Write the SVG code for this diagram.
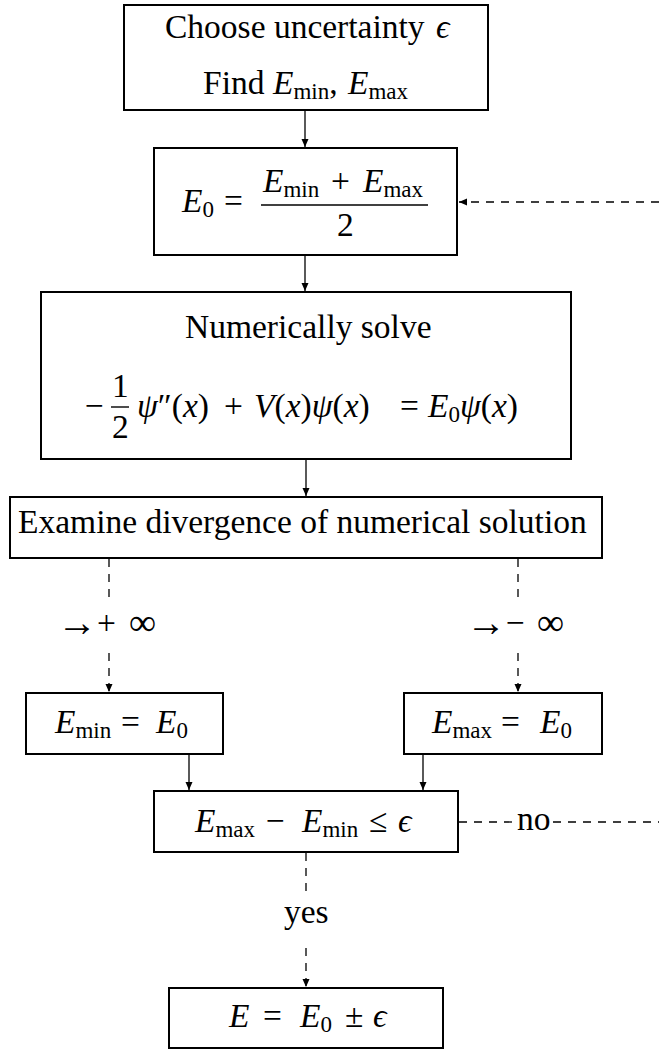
<svg xmlns="http://www.w3.org/2000/svg" width="659" height="1050" viewBox="0 0 659 1050">
<style>
  .box { fill: #fff; stroke: #000; stroke-width: 2; }
  .c { fill: none; stroke: #000; stroke-width: 1.3; }
  .d { fill: none; stroke: #000; stroke-width: 1.3; stroke-dasharray: 8 7; }
  .bar { stroke: #000; stroke-width: 1.4; }
</style>
<defs>
  <marker id="ah" markerUnits="userSpaceOnUse" viewBox="0 -4 8 8" refX="8" refY="0" markerWidth="8" markerHeight="8" orient="auto">
    <path d="M0,-3.5 L8,0 L0,3.5 z" fill="#000"/>
  </marker>
</defs>

<g id="connectors">
  <line class="c" x1="305" y1="111" x2="305" y2="147" marker-end="url(#ah)"/>
  <line class="c" x1="305" y1="256" x2="305" y2="291" marker-end="url(#ah)"/>
  <line class="c" x1="306" y1="460" x2="306" y2="496" marker-end="url(#ah)"/>
  <line class="c" x1="189" y1="755" x2="189" y2="790" marker-end="url(#ah)"/>
  <line class="c" x1="423" y1="755" x2="423" y2="790" marker-end="url(#ah)"/>
  <line class="d" x1="109" y1="559" x2="109" y2="600"/>
  <line class="d" x1="109" y1="653" x2="109" y2="692" marker-end="url(#ah)"/>
  <line class="d" x1="518" y1="559" x2="518" y2="600"/>
  <line class="d" x1="518" y1="653" x2="518" y2="692" marker-end="url(#ah)"/>
  <line class="d" x1="459" y1="822" x2="513" y2="822"/>
  <line class="d" x1="553" y1="822" x2="659" y2="822"/>
  <line class="d" x1="306" y1="853" x2="306" y2="893"/>
  <line class="d" x1="306" y1="948" x2="306" y2="987" marker-end="url(#ah)"/>
  <line class="d" x1="659" y1="202" x2="459" y2="202" marker-end="url(#ah)"/>
  <text font-family="Liberation Serif" font-size="33.5" y="634"><tspan x="57" font-size="40" y="636">→</tspan><tspan x="97" y="634">+</tspan><tspan x="129" font-size="38" y="635">∞</tspan></text>
  <text font-family="Liberation Serif" font-size="33.5" y="634"><tspan x="466" font-size="40" y="636">→</tspan><tspan x="506" y="634">−</tspan><tspan x="537" font-size="38" y="635">∞</tspan></text>
  <text font-family="Liberation Serif" font-size="33.5" x="517" y="830">no</text>
  <text font-family="Liberation Serif" font-size="33.5" x="284" y="923">yes</text>
</g>

<g id="n1">
  <rect class="box" x="124" y="5" width="364" height="105"/>
  <text font-family="Liberation Serif" font-size="33.5" y="38"><tspan x="165">Choose uncertainty</tspan><tspan font-style="italic" x="436">ϵ</tspan></text>
  <text font-family="Liberation Serif" font-size="33.5" y="94"><tspan x="203">Find</tspan><tspan font-style="italic" x="273">E</tspan><tspan font-size="23" y="99">min</tspan><tspan y="94">,</tspan><tspan font-style="italic" x="348">E</tspan><tspan font-size="23" y="99">max</tspan></text>
</g>

<g id="n2">
  <rect class="box" x="154" y="148" width="303" height="107"/>
  <text font-family="Liberation Serif" font-size="33.5" y="212"><tspan font-style="italic" x="182">E</tspan><tspan font-size="23" y="217">0</tspan><tspan x="224" y="212">=</tspan></text>
  <text font-family="Liberation Serif" font-size="33.5" y="192"><tspan font-style="italic" x="263">E</tspan><tspan font-size="23" y="197">min</tspan><tspan x="331" y="192">+</tspan><tspan font-style="italic" x="363">E</tspan><tspan font-size="23" y="197">max</tspan></text>
  <line class="bar" x1="261" y1="205" x2="428" y2="205"/>
  <text font-family="Liberation Serif" font-size="33.5" x="337" y="236">2</text>
</g>

<g id="n3">
  <rect class="box" x="41" y="292" width="530" height="167"/>
  <text font-family="Liberation Serif" font-size="33.5" x="185" y="338">Numerically solve</text>
  <text font-family="Liberation Serif" font-size="33.5" x="85" y="417">−</text>
  <text font-family="Liberation Serif" font-size="33.5" x="112" y="397">1</text>
  <line class="bar" x1="111" y1="407" x2="129" y2="407"/>
  <text font-family="Liberation Serif" font-size="33.5" x="112" y="438">2</text>
  <text font-family="Liberation Serif" font-size="33.5" y="417"><tspan font-style="italic" x="137">ψ</tspan><tspan>″(</tspan><tspan font-style="italic">x</tspan><tspan>)</tspan><tspan x="224">+</tspan><tspan font-style="italic" x="254">V</tspan><tspan>(</tspan><tspan font-style="italic">x</tspan><tspan>)</tspan><tspan font-style="italic">ψ</tspan><tspan>(</tspan><tspan font-style="italic">x</tspan><tspan>)</tspan><tspan x="400">=</tspan><tspan font-style="italic" x="428">E</tspan><tspan font-size="23" y="422">0</tspan><tspan font-style="italic" y="417">ψ</tspan><tspan>(</tspan><tspan font-style="italic">x</tspan><tspan>)</tspan></text>
</g>

<g id="n4">
  <rect class="box" x="10" y="497" width="592" height="61"/>
  <text font-family="Liberation Serif" font-size="33.5" x="18" y="533">Examine divergence of numerical solution</text>
</g>

<g id="n5">
  <rect class="box" x="26" y="693" width="197" height="61"/>
  <text font-family="Liberation Serif" font-size="33.5" y="733"><tspan font-style="italic" x="55">E</tspan><tspan font-size="23" y="738">min</tspan><tspan x="121" y="733">=</tspan><tspan font-style="italic" x="156">E</tspan><tspan font-size="23" y="738">0</tspan></text>
</g>

<g id="n6">
  <rect class="box" x="404" y="693" width="198" height="61"/>
  <text font-family="Liberation Serif" font-size="33.5" y="733"><tspan font-style="italic" x="432">E</tspan><tspan font-size="23" y="738">max</tspan><tspan x="501" y="733">=</tspan><tspan font-style="italic" x="540">E</tspan><tspan font-size="23" y="738">0</tspan></text>
</g>

<g id="n7">
  <rect class="box" x="154" y="791" width="304" height="61"/>
  <text font-family="Liberation Serif" font-size="33.5" y="832"><tspan font-style="italic" x="195">E</tspan><tspan font-size="23" y="837">max</tspan><tspan x="266" y="832">−</tspan><tspan font-style="italic" x="302">E</tspan><tspan font-size="23" y="837">min</tspan><tspan x="369" y="832">≤</tspan><tspan font-style="italic" x="398">ϵ</tspan></text>
</g>

<g id="n8">
  <rect class="box" x="169" y="988" width="274" height="60"/>
  <text font-family="Liberation Serif" font-size="33.5" y="1027"><tspan font-style="italic" x="229">E</tspan><tspan x="263">=</tspan><tspan font-style="italic" x="300">E</tspan><tspan font-size="23" y="1032">0</tspan><tspan x="345" y="1027">±</tspan><tspan font-style="italic" x="373">ϵ</tspan></text>
</g>
</svg>
